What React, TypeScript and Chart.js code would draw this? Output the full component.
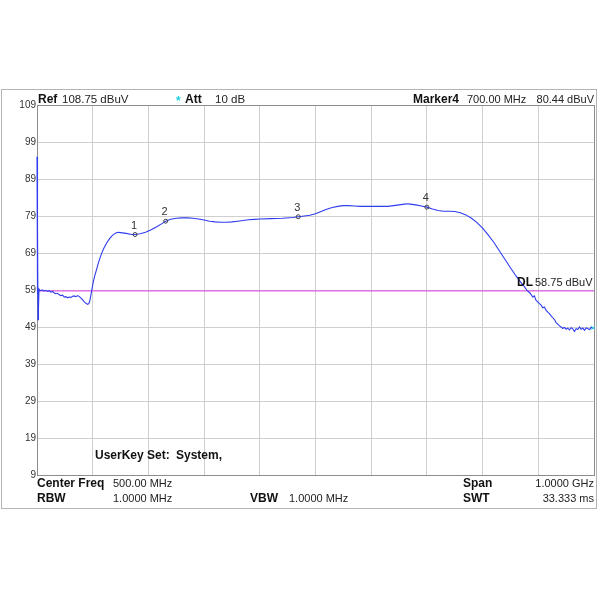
import React, { useEffect, useRef } from "react";
import { Chart, registerables } from "chart.js";

Chart.register(...registerables);

// Trace: frequency (MHz) and level (dBuV)
const traceFreq = [
  0, 0.6, 1.2, 1.8, 2.4, 3.0, 3.6,
  4, 7, 10, 13, 16, 19, 22, 25, 28, 31, 34, 37, 40, 43, 46, 49, 52, 55, 58, 61, 64, 67, 70, 73, 76, 79, 82, 85, 88, 91, 93, 95, 97, 99,
  101, 104, 107, 110, 113, 116, 120, 125, 130, 135, 140, 145, 150, 160, 170, 176, 185, 195, 205, 215, 225, 231, 240, 250,
  260, 270, 280, 290, 300, 310, 320, 330, 340, 350, 360, 370, 380, 390, 400, 420, 440, 460, 469, 480, 490, 500,
  510, 520, 530, 540, 550, 560, 570, 580, 590, 600, 610, 620, 630, 640, 650, 660, 665, 670, 680, 690, 700,
  710, 720, 730, 740, 750, 760, 770, 780, 790, 800, 810, 820, 830, 840, 850, 860, 870, 875, 880, 885, 890, 893, 896, 899,
  902, 905, 908, 911, 914, 917, 920, 923, 926, 929, 932, 935, 938, 941, 944, 947, 950, 953, 956, 959, 962, 965, 968, 971,
  974, 977, 980, 983, 986, 989, 992, 995, 998, 1000,
];
const traceLevel = [
  95, 58, 77, 51, 56, 54, 59.2,
  59.1, 58.8, 59.0, 58.7, 58.9, 58.6, 58.8, 58.4, 58.6, 58.2, 58.0, 58.1, 57.7, 57.5, 57.6, 57.1, 57.2, 56.9, 57.1, 57.0, 57.3, 57.4, 57.2, 57.5, 57.2, 56.8, 56.3, 55.8, 55.4, 55.1, 55.3, 56.2, 57.8, 59.5,
  61.2, 63.0, 64.6, 66.2, 67.6, 68.9, 70.3, 71.7, 72.8, 73.7, 74.3, 74.6, 74.5, 74.3, 74.0, 74.0, 74.2, 74.6, 75.3, 76.1, 77.0, 77.6, 78.1, 78.4,
  78.5, 78.5, 78.4, 78.2, 77.9, 77.6, 77.4, 77.3, 77.3, 77.4, 77.6, 77.8, 78.0, 78.1, 78.2, 78.3, 78.4, 78.6, 78.8, 79.0, 79.2, 79.6,
  80.2, 80.8, 81.3, 81.6, 81.8, 81.8, 81.7, 81.6, 81.6, 81.6, 81.6, 81.6, 81.6, 81.8, 82.0, 82.2, 82.3, 82.2, 82.0, 81.7, 81.4,
  80.9, 80.5, 80.3, 80.3, 80.2, 79.9, 79.3, 78.4, 77.2, 75.7, 73.9, 71.9, 69.6, 67.3, 65.0, 62.8, 60.8, 59.9, 58.8, 58.2, 57.1, 57.4, 56.2, 55.8,
  55.3, 54.9, 54.2, 54.4, 53.5, 53.0, 52.6, 52.0, 51.5, 51.0, 50.2, 49.8, 49.3, 49.0, 48.6, 48.9, 48.4, 48.7, 48.2, 48.8, 48.5, 47.8, 48.6, 48.3,
  49.0, 48.4, 48.7, 48.1, 48.8, 48.5, 48.3, 48.9, 48.6, 48.8,
];

const markerFreq = [176, 231, 469, 700];
const markerLevel = [74.0, 77.6, 78.8, 81.4];
const markerLabels = ["1", "2", "3", "4"];

const displayLine = 58.75;
const yTicks = [9, 19, 29, 39, 49, 59, 69, 79, 89, 99, 109];
const freqMin = 0;
const freqMax = 1000;
const freqStep = 100;

const FONT = '"Liberation Sans", Arial, sans-serif';

const textPlugin = {
  id: "analyzerText",
  beforeDraw(chart: any) {
    const ctx = chart.ctx;
    ctx.save();
    ctx.fillStyle = "#fff";
    ctx.fillRect(0, 0, chart.width, chart.height);
    ctx.strokeStyle = "#b4b4b4";
    ctx.lineWidth = 1;
    ctx.strokeRect(1.5, 89.5, 595, 419);
    ctx.restore();
  },
  beforeDatasetsDraw(chart: any) {
    const ctx = chart.ctx;
    const a = chart.chartArea;
    ctx.save();
    ctx.strokeStyle = "#8c8c8c";
    ctx.lineWidth = 1;
    ctx.strokeRect(Math.round(a.left) + 0.5, Math.round(a.top) + 0.5, Math.round(a.right - a.left), Math.round(a.bottom - a.top));
    ctx.restore();
  },
  afterDraw(chart: any) {
    const ctx = chart.ctx;
    const xs = chart.scales.x;
    const ys = chart.scales.y;
    ctx.save();

    const txt = (s: string, x: number, y: number, bold: boolean, align: CanvasTextAlign = "left", color = "#111", size = 11) => {
      ctx.font = `${bold ? "bold " : ""}${size}px ${FONT}`;
      ctx.fillStyle = color;
      ctx.textAlign = align;
      ctx.textBaseline = "alphabetic";
      ctx.fillText(s, x, y);
    };

    // header
    txt("Ref", 38, 103, true, "left", "#111", 12);
    txt("108.75 dBuV", 62, 103, false, "left", "#222", 11.5);
    txt("*", 176, 105, true, "left", "#20d0e0", 12);
    txt("Att", 185, 103, true, "left", "#111", 12);
    txt("10 dB", 215, 103, false, "left", "#222", 11.5);
    txt("Marker4", 413, 103, true, "left", "#111", 12);
    txt("700.00 MHz", 467, 103, false, "left", "#222", 11);
    txt("80.44 dBuV", 594, 103, false, "right", "#222", 11);

    // footer
    txt("Center Freq", 37, 487, true, "left", "#111", 12);
    txt("500.00 MHz", 113, 487, false, "left", "#222", 11);
    txt("RBW", 37, 502, true, "left", "#111", 12);
    txt("1.0000 MHz", 113, 502, false, "left", "#222", 11);
    txt("VBW", 250, 502, true, "left", "#111", 12);
    txt("1.0000 MHz", 289, 502, false, "left", "#222", 11);
    txt("Span", 463, 487, true, "left", "#111", 12);
    txt("1.0000 GHz", 594, 487, false, "right", "#222", 11);
    txt("SWT", 463, 502, true, "left", "#111", 12);
    txt("33.333 ms", 594, 502, false, "right", "#222", 11);

    // user key
    txt("UserKey Set:", 95, 459, true, "left", "#111", 12);
    txt("System,", 176, 459, true, "left", "#111", 12);

    // display line label
    const dlY = ys.getPixelForValue(displayLine);
    txt("DL", 517, dlY - 5, true, "left", "#111", 12);
    txt("58.75 dBuV", 535, dlY - 5, false, "left", "#222", 11);

    // marker labels
    markerFreq.forEach((f, i) => {
      const px = xs.getPixelForValue(f);
      const py = ys.getPixelForValue(markerLevel[i]);
      txt(markerLabels[i], px - 1, py - 6, false, "center", "#333", 11);
    });

    // end-of-trace cyan marker
    const ex = xs.getPixelForValue(freqMax);
    const ey = ys.getPixelForValue(traceLevel[traceLevel.length - 1]);
    ctx.strokeStyle = "#30d8e8";
    ctx.lineWidth = 1;
    ctx.beginPath();
    ctx.moveTo(ex - 3, ey - 2);
    ctx.lineTo(ex + 1, ey + 2);
    ctx.moveTo(ex - 3, ey + 2);
    ctx.lineTo(ex + 1, ey - 2);
    ctx.stroke();
    ctx.restore();
  },
};

export default function App() {
  const ref = useRef<HTMLCanvasElement>(null);
  useEffect(() => {
    if (!ref.current) return;
    const chart = new Chart(ref.current, {
      type: "line",
      data: {
        datasets: [
          {
            label: "Trace",
            data: traceFreq.map((f, i) => ({ x: f, y: traceLevel[i] })),
            borderColor: "#2f3cf0",
            borderWidth: 1.1,
            pointRadius: 0,
            tension: 0,
            fill: false,
            clip: false,
            order: 1,
          } as any,
          {
            label: "DL",
            data: [
              { x: freqMin, y: displayLine },
              { x: freqMax, y: displayLine },
            ],
            borderColor: "#e040e8",
            borderWidth: 1,
            pointRadius: 0,
            fill: false,
            order: 2,
          },
          {
            label: "Markers",
            type: "scatter",
            data: markerFreq.map((f, i) => ({ x: f, y: markerLevel[i] })),
            showLine: false,
            pointRadius: 2,
            pointStyle: "circle",
            borderColor: "#444",
            borderWidth: 1,
            backgroundColor: "rgba(255,255,255,0)",
            order: 0,
          } as any,
        ],
      },
      options: {
        animation: false,
        responsive: false,
        devicePixelRatio: 1,
        layout: { padding: { left: 0, top: 105, right: 6, bottom: 125 } },
        plugins: { legend: { display: false }, tooltip: { enabled: false } },
        scales: {
          x: {
            type: "linear",
            min: freqMin,
            max: freqMax,
            ticks: { display: false, stepSize: freqStep },
            grid: { color: "#cfcfcf", drawTicks: false },
            border: { display: false },
            afterFit: (s: any) => {
              s.height = 0;
            },
          },
          y: {
            type: "linear",
            min: yTicks[0],
            max: yTicks[yTicks.length - 1],
            afterBuildTicks: (s: any) => {
              s.ticks = yTicks.map((v) => ({ value: v }));
            },
            ticks: {
              padding: 1,
              color: "#333",
              font: { family: FONT, size: 10 },
              callback: (v: any) => String(v),
            },
            grid: { color: "#cfcfcf", drawTicks: false },
            border: { display: false },
            afterFit: (s: any) => {
              s.width = 37;
            },
          },
        },
      },
      plugins: [textPlugin],
    });
    return () => chart.destroy();
  }, []);
  return (
    <div style={{ position: "absolute", left: 0, top: 0, width: 600, height: 600, background: "#fff" }}>
      <canvas ref={ref} width={600} height={600} style={{ display: "block" }} />
    </div>
  );
}
